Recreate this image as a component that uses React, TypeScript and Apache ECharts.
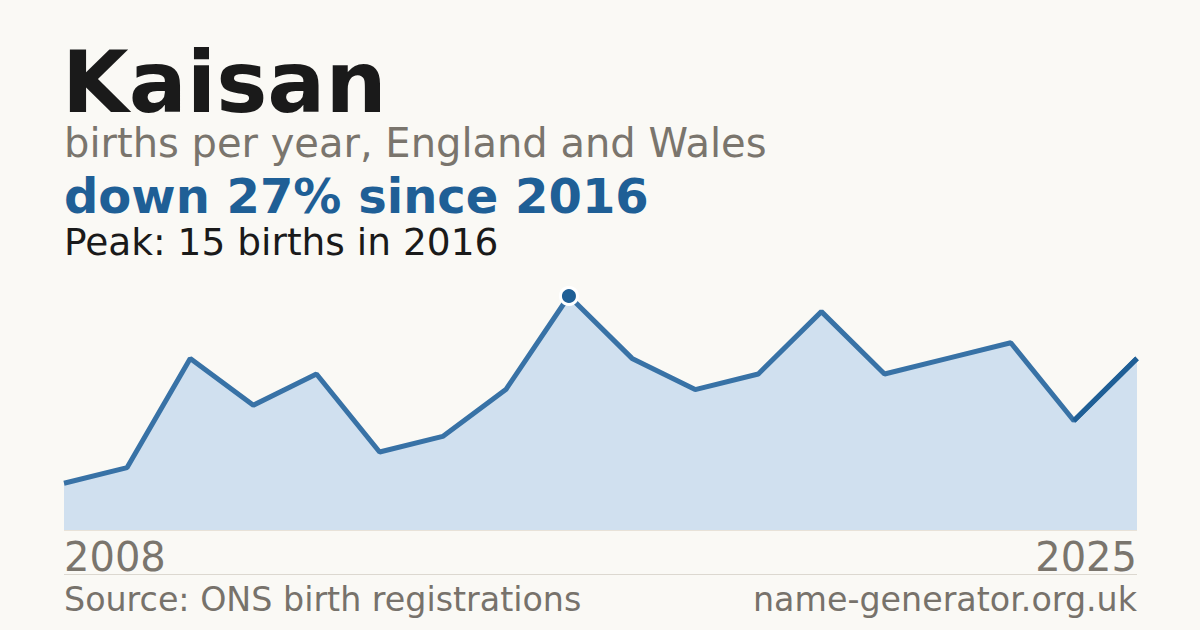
import React, { useEffect, useRef } from "react";
import * as echarts from "echarts";

const years = ["2008","2009","2010","2011","2012","2013","2014","2015","2016","2017","2018","2019","2020","2021","2022","2023","2024","2025"];
const births = [3, 4, 11, 8, 10, 5, 6, 9, 15, 11, 9, 10, 14, 10, 11, 12, 7, 11];
const peakIndex = 8;

const titleText = "Kaisan";
const subtitleText = "births per year, England and Wales";
const changeText = "down 27% since 2016";
const peakText = "Peak: 15 births in 2016";
const sourceText = "Source: ONS birth registrations";
const siteText = "name-generator.org.uk";

const FONT = "DejaVu Sans";
const BG = "#faf9f5";

export default function App() {
  const ref = useRef<HTMLDivElement>(null);
  useEffect(() => {
    if (!ref.current) return;
    const chart = echarts.init(ref.current, null, { renderer: "svg" });
    const lastSeg = births.map((v, i) => (i >= births.length - 2 ? v : null));
    const peakData = births.map((v, i) => (i === peakIndex ? v : null));
    chart.setOption({
      animation: false,
      backgroundColor: BG,
      grid: { left: 64, right: 63, top: 296, bottom: 100 },
      xAxis: { type: "category", data: years, boundaryGap: false, show: false },
      yAxis: { type: "value", min: 0, max: 15, show: false },
      series: [
        {
          type: "line",
          data: births,
          symbol: "none",
          clip: false,
          lineStyle: { color: "#3872a6", width: 5 },
          areaStyle: { color: "#d0e0ef", opacity: 1 },
          z: 2,
        },
        {
          type: "line",
          data: lastSeg,
          symbol: "none",
          clip: false,
          lineStyle: { color: "#1f5f96", width: 5 },
          z: 3,
        },
        {
          type: "line",
          data: peakData,
          symbol: "circle",
          symbolSize: 17,
          showSymbol: true,
          clip: false,
          lineStyle: { width: 0 },
          itemStyle: { color: "#1f5f96", borderColor: "#ffffff", borderWidth: 3 },
          z: 4,
        },
      ],
      graphic: [
        { type: "text", x: 62, y: 82, style: { text: titleText, font: `bold 86px '${FONT}'`, fill: "#1a1a1a", verticalAlign: "middle" } },
        { type: "text", x: 64, y: 143, style: { text: subtitleText, font: `40px '${FONT}'`, fill: "#7a756d", verticalAlign: "middle" } },
        { type: "text", x: 64, y: 196, style: { text: changeText, font: `bold 48px '${FONT}'`, fill: "#1f5f96", verticalAlign: "middle" } },
        { type: "text", x: 64, y: 242, style: { text: peakText, font: `37.5px '${FONT}'`, fill: "#1a1a1a", verticalAlign: "middle" } },
        { type: "text", x: 64, y: 557, style: { text: years[0], font: `40px '${FONT}'`, fill: "#7a756d", verticalAlign: "middle" } },
        { type: "text", x: 1137, y: 557, style: { text: years[years.length - 1], font: `40px '${FONT}'`, fill: "#7a756d", verticalAlign: "middle", align: "right" } },
        { type: "line", shape: { x1: 64, y1: 574.5, x2: 1137, y2: 574.5 }, style: { stroke: "#dcd8d0", lineWidth: 1 } },
        { type: "line", shape: { x1: 64, y1: 530.5, x2: 1137, y2: 530.5 }, style: { stroke: "#e8e2d8", lineWidth: 1 } },
        { type: "text", x: 64, y: 599, style: { text: sourceText, font: `33.3px '${FONT}'`, fill: "#77726b", verticalAlign: "middle" } },
        { type: "text", x: 1137, y: 599, style: { text: siteText, font: `33.3px '${FONT}'`, fill: "#77726b", verticalAlign: "middle", align: "right" } },
      ],
    });
    return () => chart.dispose();
  }, []);
  return <div ref={ref} style={{ width: 1200, height: 630, position: "fixed", left: 0, top: 0 }} />;
}
